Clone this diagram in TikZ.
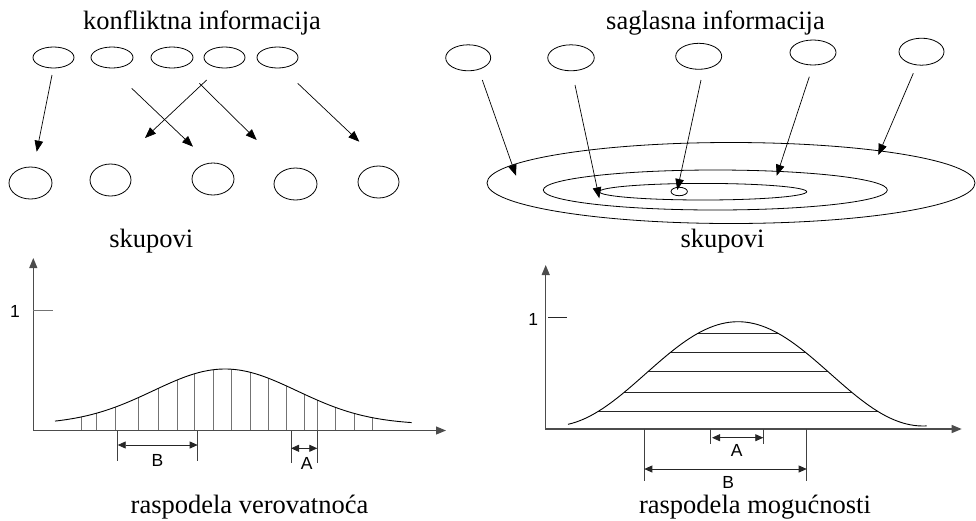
\documentclass[tikz,border=0pt]{standalone}
\usepackage{fontspec}
\setmainfont{Liberation Serif}
\newfontfamily\arialf{Liberation Sans}
\usetikzlibrary{shapes.geometric,arrows.meta}
\begin{document}
\begin{tikzpicture}[x=1pt,y=-1pt,
  ell/.style={draw, ellipse, line width=0.8pt, inner sep=0pt},
  arr/.style={-{Triangle[length=11pt,width=8.5pt]}, line width=0.7pt},
  dimarr/.style={{Triangle[length=8pt,width=7pt]}-{Triangle[length=8pt,width=7pt]}, line width=0.8pt, draw=black!85},
  dimline/.style={line width=0.8pt, draw=black!75},
  ttl/.style={font=\fontsize{26.5}{30}\selectfont, anchor=base, inner sep=0pt},
  lbl/.style={font=\arialf\fontsize{17.5}{19}\selectfont, inner sep=0pt},
  axes/.style={line width=1.1pt, draw=black!70, {Triangle[length=10pt,width=8pt]}-{Triangle[length=10pt,width=8pt]}},
  hatch/.style={line width=0.8pt, draw=black!55},
  hline/.style={line width=0.9pt, draw=black!85},
  curve/.style={line width=0.9pt, draw=black},
  declare function={
    fa(\t)=424.5-55.5*exp(-0.5*((\t-225)/72)^2);
    fb(\t)=426-104.3*(1+cos(0.97297*(\t-738)))/2;
  }
]
\useasboundingbox (0,0) rectangle (976,520);

% ---------- titles ----------
\node[ttl] (tl) at (202,29) {konfliktna informacija};
\node[ttl] (tr) at (715.5,29) {saglasna informacija};

% ---------- left: conflicting information ----------
\node[ell, minimum width=41pt, minimum height=21pt] (a1) at (53.5,57.5) {};
\node[ell, minimum width=42pt, minimum height=21pt] (a2) at (112,57.5) {};
\node[ell, minimum width=42pt, minimum height=21pt] (a3) at (172,57.5) {};
\node[ell, minimum width=41pt, minimum height=21pt] (a4) at (224.5,57.5) {};
\node[ell, minimum width=41pt, minimum height=21pt] (a5) at (277.5,57.5) {};

\node[ell, minimum width=43pt, minimum height=32pt] (b1) at (30.5,183) {};
\node[ell, minimum width=41pt, minimum height=32pt] (b2) at (110.5,180) {};
\node[ell, minimum width=42pt, minimum height=32pt] (b3) at (213,179) {};
\node[ell, minimum width=43pt, minimum height=32pt] (b4) at (295.5,184) {};
\node[ell, minimum width=41pt, minimum height=32pt] (b5) at (378.5,182) {};

\coordinate (s1) at (52,75);      \coordinate (e1) at (36.7,151.7);
\coordinate (s2) at (131.7,88.3); \coordinate (e2) at (193,146.7);
\coordinate (s3) at (206.7,80);   \coordinate (e3) at (145,138);
\coordinate (s4) at (199.3,83.3); \coordinate (e4) at (256.7,140);
\coordinate (s5) at (297.7,83.3); \coordinate (e5) at (359.3,141.7);
\foreach \i in {1,...,5} \draw[arr] (s\i) -- (e\i);

\node[ttl] (skl) at (151.3,247) {skupovi};

% ---------- right: consonant information ----------
\node[ell, minimum width=45pt, minimum height=26pt] (c1) at (468.2,57.8) {};
\node[ell, minimum width=46.5pt, minimum height=26pt] (c2) at (571,57.8) {};
\node[ell, minimum width=46pt, minimum height=26pt] (c3) at (698.7,56.3) {};
\node[ell, minimum width=46pt, minimum height=25pt] (c4) at (813,52.5) {};
\node[ell, minimum width=45pt, minimum height=27pt] (c5) at (921.5,51.7) {};

\node[ell, minimum width=488pt, minimum height=81pt] (o1) at (731,183) {};
\node[ell, minimum width=344pt, minimum height=40pt] (o2) at (715.3,190) {};
\node[ell, minimum width=207.4pt, minimum height=16.6pt] (o3) at (703,191.7) {};
\node[ell, minimum width=16.4pt, minimum height=8.4pt] (o4) at (679.2,191.5) {};

\coordinate (r1) at (482.3,80);   \coordinate (q1) at (516,175.7);
\coordinate (r2) at (575,85);     \coordinate (q2) at (599.3,198.3);
\coordinate (r3) at (701,80);     \coordinate (q3) at (677.3,190);
\coordinate (r4) at (809.3,76.7); \coordinate (q4) at (776.7,175.7);
\coordinate (r5) at (913.3,73.3); \coordinate (q5) at (878.3,155);
\foreach \i in {1,...,5} \draw[arr] (r\i) -- (q\i);

\node[ttl] (skr) at (722.5,247) {skupovi};

% ---------- left chart: probability ----------
\foreach \x in {81.7,96,115,138.3,158.3,177.3,194.3,213.3,231.7,250.7,268.3,286.7,304,317.3,335,354,372.7}
  \draw[hatch] (\x,430.5) -- (\x,{fa(\x)});
\draw[curve] plot[domain=55:411.7, samples=90, smooth] (\x,{fa(\x)});
\draw[axes] (33.3,258) -- (33.3,430.5) -- (446,430.5);
\draw[hatch] (33.3,310) -- (53.3,310);
\node[lbl] (one1) at (15,311) {1};

\draw[dimline] (117.7,430.5) -- (117.7,460.7);
\draw[dimline] (197.7,430.5) -- (197.7,460.7);
\draw[dimarr] (117.7,445) -- (197.7,445);
\node[lbl] (bl) at (157.5,460.5) {B};
\draw[dimline] (291,431) -- (291,463.3);
\draw[dimline] (317.3,431) -- (317.3,463.3);
\draw[dimarr] (291,448.3) -- (317.3,448.3);
\node[lbl] (al) at (306.7,463.8) {A};

\node[ttl] (pl) at (249.5,513) {raspodela verovatnoća};

% ---------- right chart: possibility ----------
\foreach \y in {333.3,352.7,371.7,392.3,411.7} {
  \pgfmathsetmacro\dd{185/180*acos(2*(426-\y)/104.3-1)}
  \draw[hline] ({738-\dd},\y) -- ({738+\dd},\y);
}
\draw[curve] plot[domain=568:926.7, samples=90, smooth] (\x,{fb(\x)});
\draw[axes] (545.7,265) -- (545.7,429) -- (961.7,429);
\draw[hline] (548.3,317.3) -- (567.3,317.3);
\node[lbl] (one2) at (533.3,319) {1};

\draw[dimline] (710,429) -- (710,444);
\draw[dimline] (763.3,429) -- (763.3,444);
\draw[dimarr] (712,437.7) -- (763.3,437.7);
\node[lbl] (ar) at (736.7,450.5) {A};
\draw[dimline] (644.3,429) -- (644.3,480.7);
\draw[dimline] (806.7,429) -- (806.7,480.7);
\draw[dimarr] (644.3,469) -- (806.7,469);
\node[lbl] (br) at (728.3,482.5) {B};

\node[ttl] (pr) at (755,513) {raspodela mogućnosti};
\end{tikzpicture}
\end{document}
